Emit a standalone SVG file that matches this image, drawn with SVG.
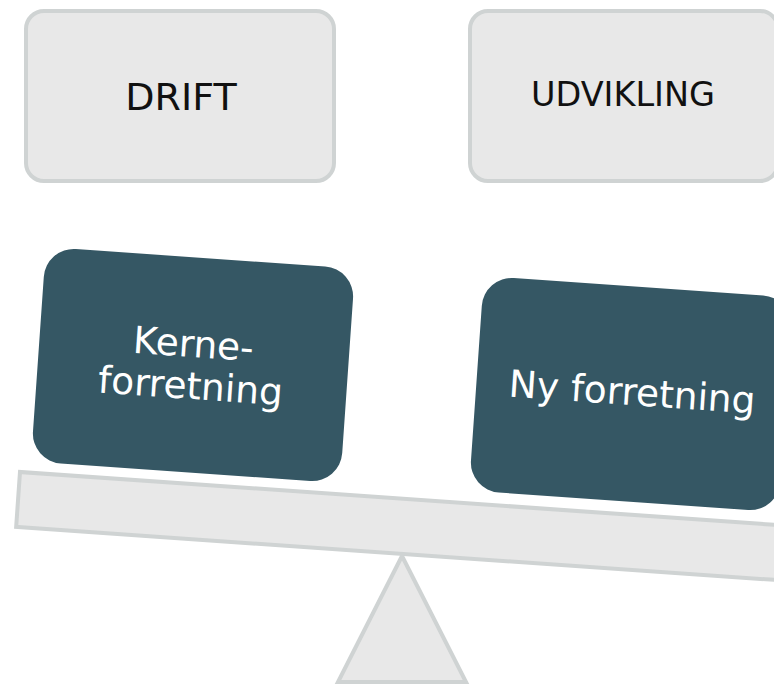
<svg xmlns="http://www.w3.org/2000/svg" width="774" height="684" viewBox="0 0 774 684">
<style>
.light{fill:#e8e8e8;stroke:#cfd3d3;stroke-width:4}
.dark{fill:#355764}
.lbl{font-family:"DejaVu Sans",Verdana,sans-serif;text-anchor:middle}
.blk{fill:#111}
.wht{fill:#ffffff}
</style>
<rect width="774" height="684" fill="#ffffff"/>
<g id="drift">
<rect class="light" x="26" y="11" width="308" height="170" rx="18"/>
<text class="lbl blk" x="181" y="110" font-size="38">DRIFT</text>
</g>
<g id="udvikling">
<rect class="light" x="470" y="11" width="308" height="170" rx="18"/>
<text class="lbl blk" x="623" y="106" font-size="33.5">UDVIKLING</text>
</g>
<g id="beam">
<rect class="light" x="0" y="0" width="790" height="55" transform="translate(20,472) rotate(4)"/>
</g>
<g id="fulcrum">
<polygon class="light" points="402,556 338,682 466,682"/>
</g>
<g id="kerneforretning" transform="translate(193,365) rotate(4)">
<rect class="dark" x="-155" y="-107.5" width="310" height="215" rx="30"/>
<text class="lbl wht" x="-1" y="-8" font-size="37.5">Kerne-</text>
<text class="lbl wht" x="-1" y="34" font-size="37.5">forretning</text>
</g>
<g id="nyforretning" transform="translate(631,394) rotate(4)">
<rect class="dark" x="-155" y="-107.5" width="310" height="215" rx="30"/>
<text class="lbl wht" x="1" y="11" font-size="37.5">Ny forretning</text>
</g>
<g id="connectors"/>
</svg>
